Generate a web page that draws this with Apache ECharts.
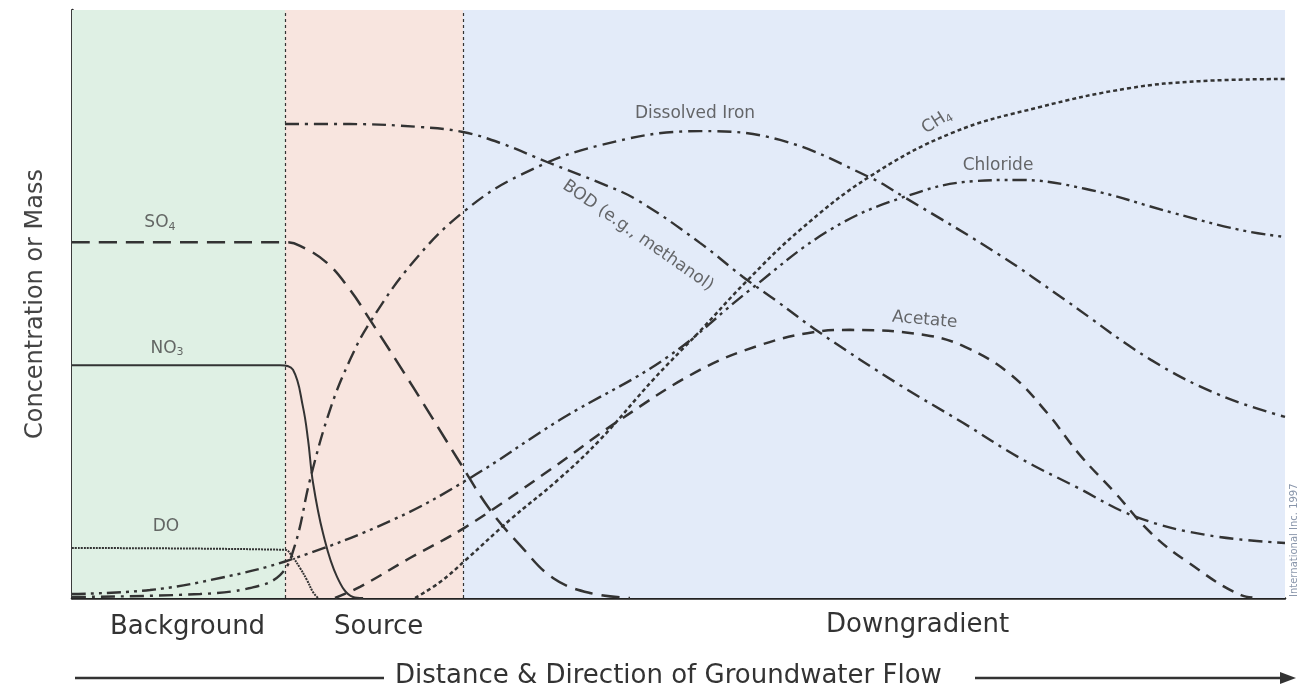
<!DOCTYPE html>
<html>
<head>
<meta charset="utf-8">
<script src="https://cdn.jsdelivr.net/npm/echarts@6/dist/echarts.min.js"></script>
<style>
  html, body { margin: 0; padding: 0; background: #fff; }
  #main { width: 1301px; height: 692px; }
</style>
</head>
<body>
<div id="main"></div>
<script>
// distance (0-100) / concentration (0-100)
var so4 = [[0,60.5],[17.56,60.5],[18.8,59.9],[21.02,57.0],[22.92,52.4],[24.57,47.3],[28.11,35.9],[31.99,23.0],[34.46,15.0],[36.93,9.0],[39.65,3.4],[42.7,0.85],[46.0,0]];
var no3 = [[0,39.6],[17.15,39.6],[18.22,38.8],[19.04,32.5],[19.46,26.9],[19.87,19.6],[20.69,11.05],[21.85,3.6],[23.17,0.17],[24,0]];
var dissolvedO2 = [[0,8.5],[17.56,8.2],[18.14,7.1],[18.8,5.1],[19.37,3.06],[19.87,1.0],[20.28,0]];
var dissolvedIron = [[0,0.17],[10.55,0.68],[14.67,1.7],[17.15,3.9],[18.38,9.0],[19.62,20.1],[21.27,32.0],[22.92,40.5],[24.57,46.9],[28.11,57.1],[32.23,65.6],[36.93,71.9],[43.53,77.0],[51.77,79.4],[58.37,77.9],[65.71,71.6],[68.59,68.2],[76.5,58.3],[81.86,50.7],[88.95,40.5],[94.64,34.5],[100,30.8]];
var bod = [[17.56,80.6],[22.92,80.6],[28.69,80.1],[32.23,79.25],[35.28,77.4],[39.16,74.15],[43.53,70.6],[46.58,67.7],[51.77,60.4],[55.32,54.6],[57.96,50.7],[61.67,45.1],[68.26,36.2],[73.45,29.8],[78.15,23.8],[82.77,18.9],[87.72,13.8],[93.57,10.7],[100,9.35]];
var ch4 = [[28.28,0],[30.34,2.7],[32.48,6.5],[36.11,13.3],[40.07,20.1],[43.53,26.9],[47.9,37.1],[51.77,45.4],[55.48,53.6],[60.02,62.6],[65.71,71.6],[72.55,79.1],[79.8,83.5],[87.14,86.7],[92.99,87.9],[100,88.27]];
var chloride = [[0,0.68],[6.43,1.36],[12.2,3.4],[17.97,6.5],[26.46,13.3],[32.81,20.4],[40.23,30.3],[48.97,40.8],[55.89,52.4],[62.49,62.6],[68.59,68.2],[74.36,70.9],[77.99,71.1],[83.51,69.6],[90.77,65.5],[96.29,62.6],[100,61.4]];
var acetate = [[21.68,0],[23.74,1.9],[27.86,6.8],[32.48,12.1],[39.41,21.8],[45.18,30.3],[51.77,38.8],[56.72,43.0],[61.09,45.2],[64.14,45.6],[70.4,44.7],[73.62,42.7],[77.33,38.1],[80.38,31.5],[83.1,24.3],[85.99,17.9],[88.95,11.05],[92.09,5.95],[96.37,0.5],[97.94,0]];

// zones along the flow path
var zoneEdges = [0, 17.56, 32.23, 100];
var zoneNames = ['Background', 'Source', 'Downgradient'];
var zoneColors = ['#dff0e4', '#f8e5df', '#e3ebf9'];

// curve labels: name, x, y, rotation
var curveLabels = [
  ['SO{s|4}', 7.25, 63.9, 0],
  ['NO{s|3}', 7.83, 42.5, 0],
  ['DO', 7.75, 12.1, 0],
  ['Dissolved Iron', 51.36, 82.3, 0],
  ['CH{s|4}', 71.3, 81.0, 32],
  ['Chloride', 76.34, 73.6, 0],
  ['Acetate', 70.3, 47.3, -5],
  ['BOD (e.g., methanol)', 46.66, 61.6, -35]
];

var ink = '#333';
var font = 'DejaVu Sans';

function curve(name, data, dash, width) {
  return {
    name: name,
    type: 'line',
    data: data,
    smooth: 0.4,
    showSymbol: false,
    silent: true,
    lineStyle: { color: ink, width: width || 2.4, type: dash },
    z: 3
  };
}

var chart = echarts.init(document.getElementById('main'));

var areas = [];
for (var i = 0; i < zoneNames.length; i++) {
  areas.push([{ xAxis: zoneEdges[i], itemStyle: { color: zoneColors[i] } }, { xAxis: zoneEdges[i + 1] }]);
}

var option = {
  animation: false,
  backgroundColor: '#fff',
  grid: { left: 72, right: 16, top: 10, bottom: 94 },
  xAxis: {
    type: 'value', min: 0, max: 100,
    axisLine: { show: true, onZero: false, lineStyle: { color: '#222', width: 2.5 } },
    axisTick: { show: false }, axisLabel: { show: false }, splitLine: { show: false }
  },
  yAxis: [{
    type: 'value', min: 0, max: 100,
    name: 'Concentration or Mass',
    nameLocation: 'middle', nameGap: 24, nameRotate: 90,
    nameTextStyle: { fontFamily: font, fontSize: 24, color: '#444' },
    axisLine: { show: true, onZero: false, lineStyle: { color: '#222', width: 2.5 } },
    axisTick: { show: false }, axisLabel: { show: false }, splitLine: { show: false }
  }, {
    type: 'value', min: 0, max: 100, position: 'right',
    axisLine: { show: true, lineStyle: { color: '#333', width: 1.5 } },
    axisTick: { show: false }, axisLabel: { show: false }, splitLine: { show: false }
  }],
  series: [
    {
      type: 'line', data: [], silent: true, z: 0,
      markArea: { silent: true, data: areas },
      markLine: {
        silent: true, symbol: 'none', label: { show: false },
        lineStyle: { color: '#333', width: 1.2, type: [3, 3] },
        data: [{ xAxis: zoneEdges[1] }, { xAxis: zoneEdges[2] }]
      }
    },
    curve('SO4', so4, [18, 9], 2.5),
    curve('NO3', no3, 'solid', 2),
    curve('DO', dissolvedO2, [2, 1], 2),
    curve('Dissolved Iron', dissolvedIron, [14, 6, 3, 6]),
    curve('BOD', bod, [14, 6, 3, 6]),
    curve('CH4', ch4, [4, 3], 2.5),
    curve('Chloride', chloride, [14, 5, 3, 5, 3, 5]),
    curve('Acetate', acetate, [12, 8], 2.5),
    {
      type: 'scatter', symbolSize: 0, silent: true, z: 5,
      data: curveLabels.map(function (l) {
        return { name: l[0], value: [l[1], l[2]], label: { rotate: l[3] } };
      }),
      label: {
        show: true, position: 'inside',
        formatter: function (p) { return p.name; },
        fontFamily: font, fontSize: 17, color: '#444',
        rich: { s: { fontFamily: font, fontSize: 11, color: '#444', padding: [9, 0, 0, 0] } }
      }
    }
  ],
  graphic: [
    { type: 'text', left: 110, top: 614, style: { text: zoneNames[0], font: '26px "' + font + '"', fill: ink } },
    { type: 'text', left: 334, top: 614, style: { text: zoneNames[1], font: '26px "' + font + '"', fill: ink } },
    { type: 'text', left: 826, top: 612, style: { text: zoneNames[2], font: '26px "' + font + '"', fill: ink } },
    { type: 'line', shape: { x1: 75, y1: 678, x2: 384, y2: 678 }, style: { stroke: ink, lineWidth: 2.5 } },
    { type: 'text', left: 395, top: 663, style: { text: 'Distance & Direction of Groundwater Flow', font: '26px "' + font + '"', fill: ink } },
    { type: 'line', shape: { x1: 975, y1: 678, x2: 1284, y2: 678 }, style: { stroke: ink, lineWidth: 2.5 } },
    { type: 'polygon', shape: { points: [[1296, 678], [1280, 672], [1280, 684]] }, style: { fill: ink } },
    { type: 'text', x: 1289, y: 597, rotation: Math.PI / 2,
      style: { text: 'International Inc. 1997', font: '10px "' + font + '"', fill: '#8895aa', textVerticalAlign: 'top' } }
  ]
};

chart.setOption(option);
</script>
</body>
</html>
